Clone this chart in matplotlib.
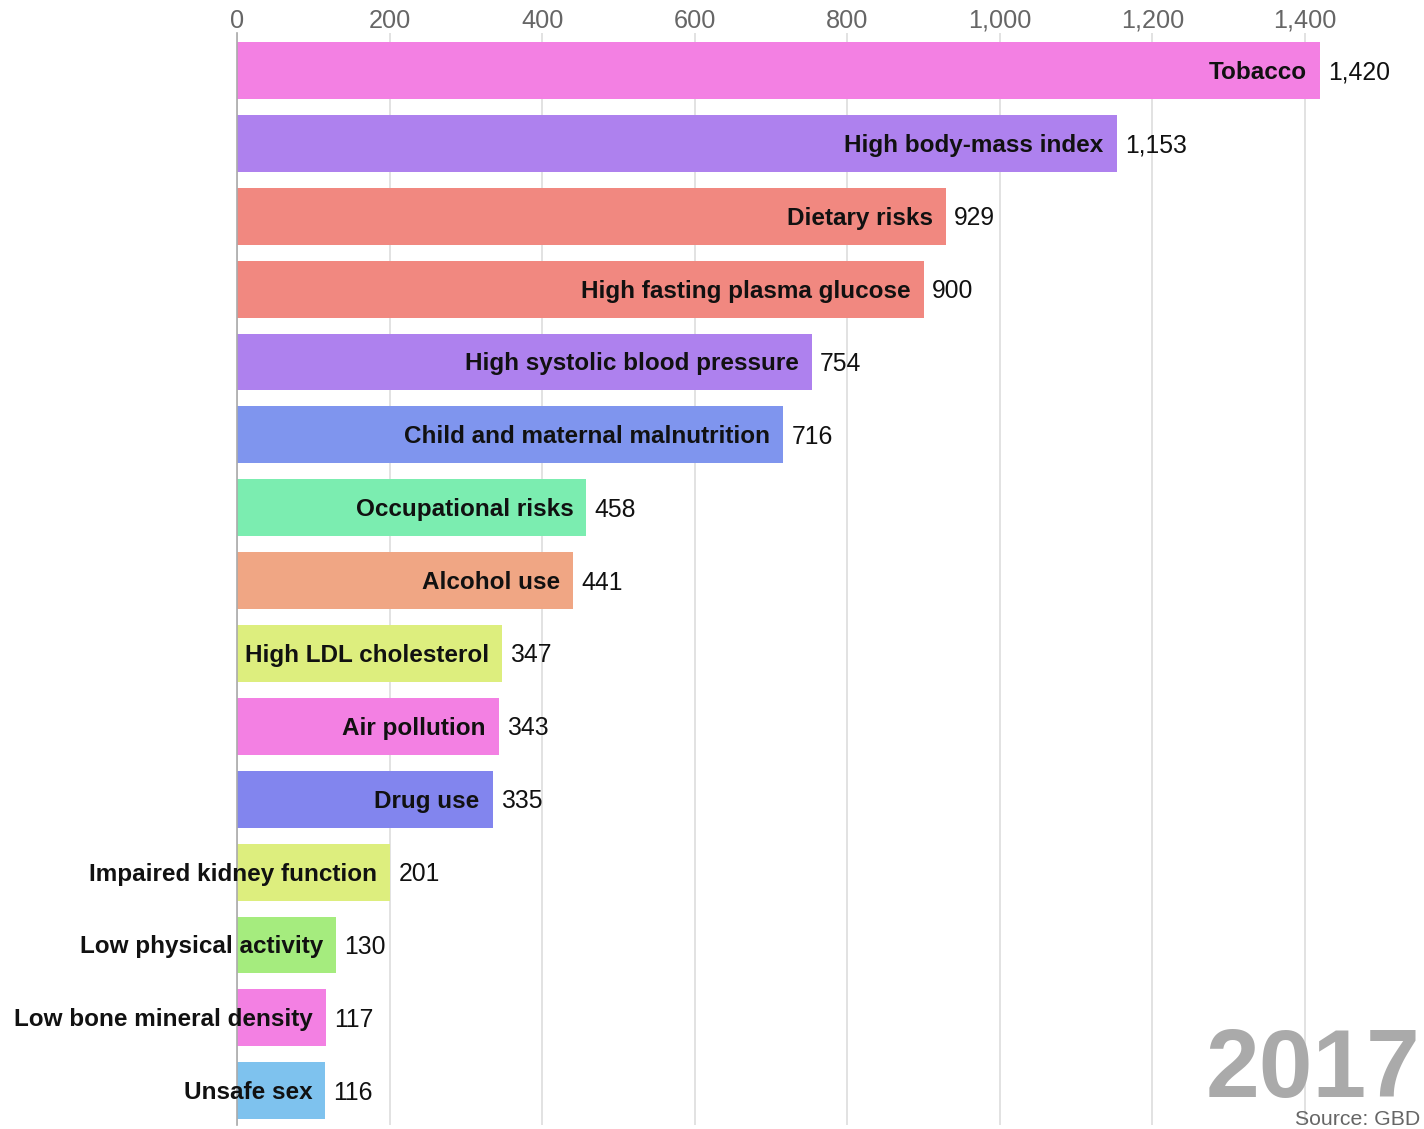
import matplotlib
matplotlib.use("Agg")
import matplotlib.pyplot as plt
from matplotlib.ticker import FuncFormatter

# Deaths attributed to each risk factor (thousands), 2017
risk_factors = [
    "Tobacco", "High body-mass index", "Dietary risks", "High fasting plasma glucose",
    "High systolic blood pressure", "Child and maternal malnutrition", "Occupational risks",
    "Alcohol use", "High LDL cholesterol", "Air pollution", "Drug use",
    "Impaired kidney function", "Low physical activity", "Low bone mineral density",
    "Unsafe sex",
]
deaths = [1420, 1153, 929, 900, 754, 716, 458, 441, 347, 343, 335, 201, 130, 117, 116]
bar_colors = [
    "#F380E3", "#AE81EE", "#F18880", "#F18880", "#AE81EE", "#7F95EE", "#7BEDB0",
    "#F0A684", "#DDEE7E", "#F380E3", "#8285EE", "#DDEE7E", "#A5EC7E", "#F380E3",
    "#7EC2EE",
]
x_ticks = [0, 200, 400, 600, 800, 1000, 1200, 1400]
year_label = "2017"
source_label = "Source: GBD"

plt.rcParams["font.family"] = ["Liberation Sans", "DejaVu Sans"]

W, H = 1424, 1129
fig = plt.figure(figsize=(W / 100, H / 100), dpi=100)
ax_left, ax_right, ax_top, ax_bottom = 237, 1424, 33, 1125
ax = fig.add_axes([ax_left / W, 1 - ax_bottom / H,
                   (ax_right - ax_left) / W, (ax_bottom - ax_top) / H])

positions = list(range(len(risk_factors)))
ax.barh(positions, deaths, height=0.78, color=bar_colors, zorder=2)

px_per_unit = (1305 - 237) / 1400
ax.set_xlim(0, (ax_right - ax_left) / px_per_unit)
ax.set_ylim(14.47, -0.514)

ax.set_xticks(x_ticks)
ax.xaxis.set_major_formatter(FuncFormatter(lambda v, _: f"{int(v):,}"))
ax.xaxis.tick_top()
ax.tick_params(axis="x", length=0, pad=-0.5, labelsize=18.2, labelcolor="#666666")
for lbl in ax.get_xticklabels():
    lbl.set_va("center")
ax.tick_params(axis="x", pad=9)
ax.set_yticks([])
ax.grid(axis="x", color="#dddddd", linewidth=1.2, zorder=1)

for side in ("top", "right", "bottom"):
    ax.spines[side].set_visible(False)
ax.spines["left"].set_color("#aaaaaa")
ax.spines["left"].set_linewidth(1.2)
ax.spines["left"].set_zorder(3)

for pos, name, val in zip(positions, risk_factors, deaths):
    ax.annotate(name, xy=(val, pos), xytext=(-9.4, -1.4), textcoords="offset points",
                ha="right", va="center", fontsize=17.5, fontweight="bold",
                color="#111111", zorder=4, annotation_clip=False)
    ax.annotate(f"{val:,}", xy=(val, pos), xytext=(5.8, -1.4), textcoords="offset points",
                ha="left", va="center", fontsize=17.8, color="#111111", zorder=4)

fig.text(1420 / W, 1 - 1097 / H, year_label, ha="right", va="baseline",
         fontsize=69.5, fontweight="bold", color="#aaaaaa")
fig.text(1420 / W, 1 - 1125 / H, source_label, ha="right", va="baseline",
         fontsize=15.3, color="#666666")

fig.savefig("out.png", dpi=100)
